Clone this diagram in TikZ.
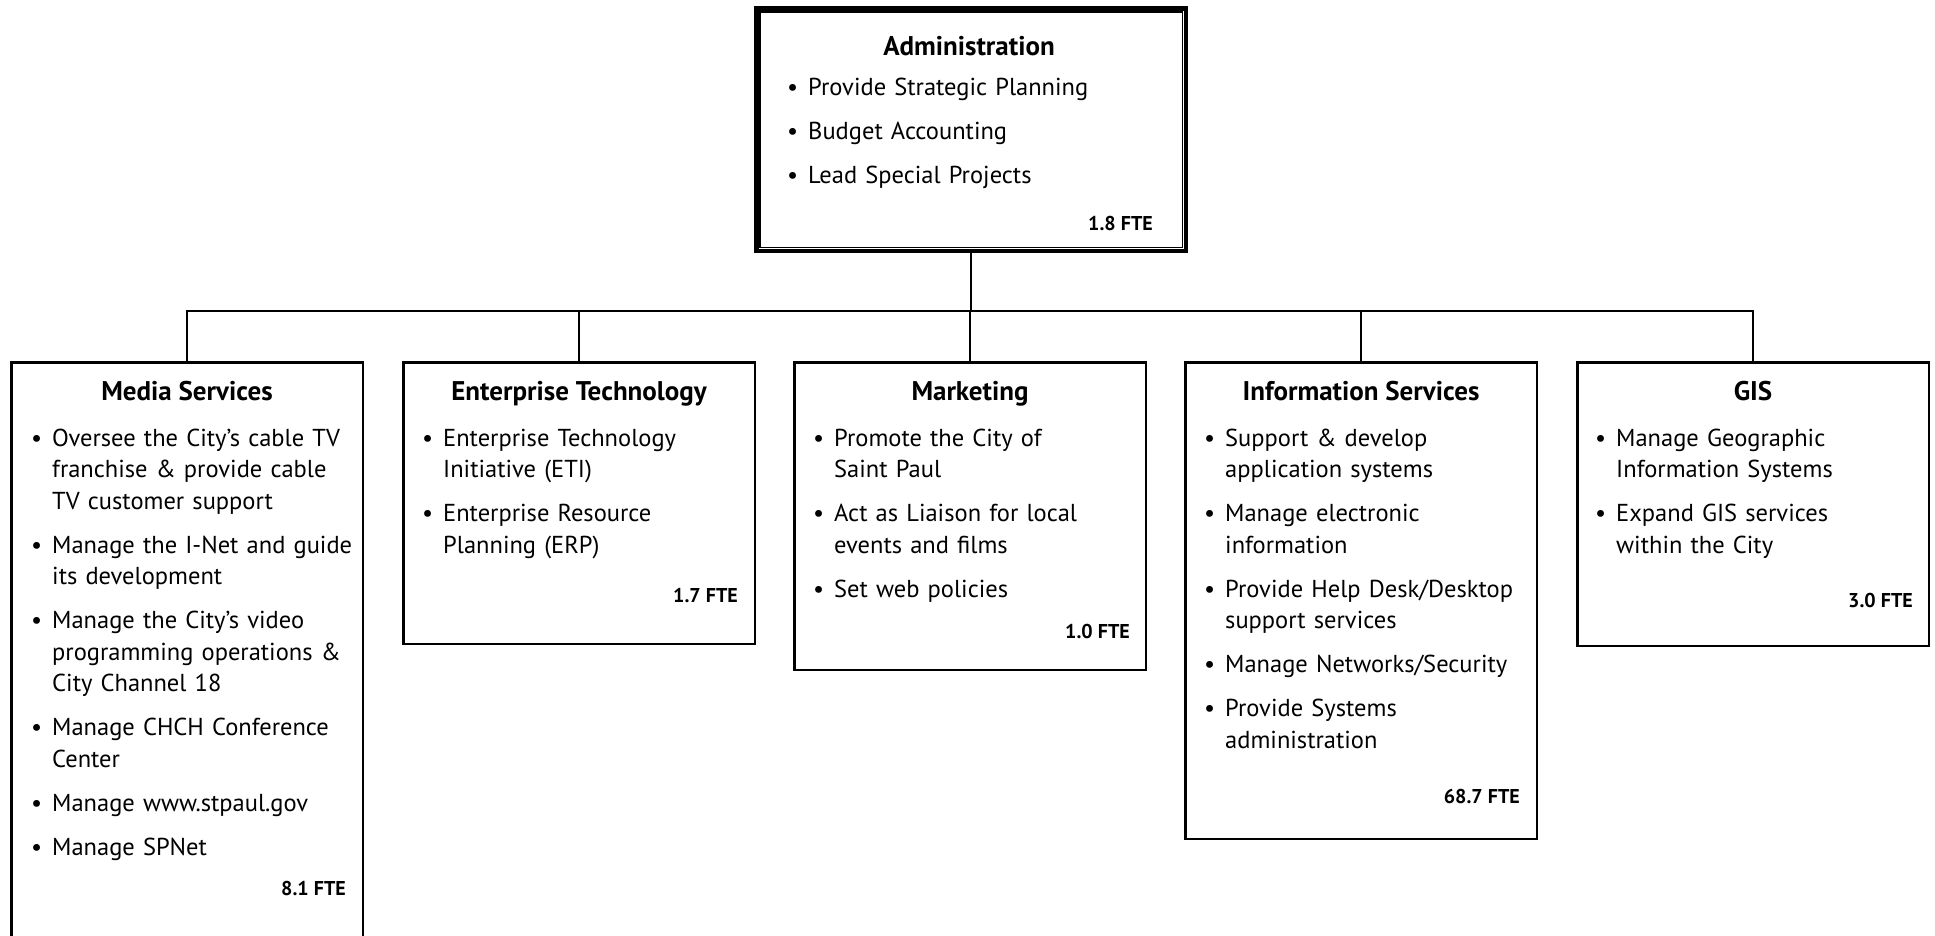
\documentclass[tikz,border=0pt]{standalone}
\usepackage{fontspec}
\setmainfont{PT Sans}
\newcommand\bul[1]{\hangindent=21pt\hangafter=1\noindent\makebox[21pt][l]{\textbullet}#1\par}
\newcommand\gap{\vspace{12.5pt}}
\begin{document}
\begin{tikzpicture}[x=1pt,y=1pt,
  cbox/.style={draw, line width=2.5pt, rectangle, inner sep=0pt, minimum width=351.5pt, anchor=north},
  conn/.style={line width=2pt},
  ttl/.style={anchor=base, inner sep=0pt, font=\fontsize{27}{30}\selectfont\bfseries},
  body/.style={anchor=base west, inner sep=0pt, text width=330pt, align=left, font=\fontsize{24.5}{31.5}\selectfont},
  fte/.style={anchor=base east, inner sep=0pt, font=\fontsize{20}{22}\selectfont\bfseries}]
\useasboundingbox (0,0) rectangle (1935,-935);
\clip (0,0) rectangle (1935,-935);
% Administration
\node[draw, line width=4.5pt, rectangle, inner sep=0pt, minimum width=429.5pt, minimum height=242.5pt] (adm) at (971,-129.5) {};
\draw[line width=1.5pt] ([shift={(5.75,-5.75)}]adm.north west) rectangle ([shift={(-5.75,5.75)}]adm.south east);
\node[ttl] (admt) at (969,-55) {Administration};
\node[body] (admb) at (787,-95) {\bul{Provide Strategic Planning}\gap\bul{Budget Accounting}\gap\bul{Lead Special Projects}};
\node[fte] (admf) at (1153,-230) {1.8 FTE};
% child boxes
\node[cbox, minimum height=700pt] (ms) at (187,-361.25) {};
\node[cbox, minimum height=281.5pt] (et) at (579,-361.25) {};
\node[cbox, minimum height=307.5pt] (mk) at (970,-361.25) {};
\node[cbox, minimum height=476.5pt] (is) at (1361,-361.25) {};
\node[cbox, minimum height=283.5pt] (gis) at (1753,-361.25) {};
% connectors
\coordinate (busy) at (0,-311);
\draw[conn] (adm.south) -- (adm.south |- busy);
\draw[conn] (ms.north) -- (ms.north |- busy) -- (gis.north |- busy) -- (gis.north);
\draw[conn] (et.north) -- (et.north |- busy);
\draw[conn] (mk.north) -- (mk.north |- busy);
\draw[conn] (is.north) -- (is.north |- busy);
% Media Services
\node[ttl] (mst) at (187,-400) {Media Services};
\node[body] (msb) at (31,-446) {\bul{Oversee the City’s cable TV\newline franchise \& provide cable\newline TV customer support}\gap\bul{Manage the I-Net and guide\newline its development}\gap\bul{Manage the City’s video\newline programming operations \&\newline City Channel 18}\gap\bul{Manage CHCH Conference\newline Center}\gap\bul{Manage www.stpaul.gov}\gap\bul{Manage SPNet}};
\node[fte] (msf) at (346,-895) {8.1 FTE};
% Enterprise Technology
\node[ttl] (ett) at (579,-400) {Enterprise Technology};
\node[body] (etb) at (422,-446) {\bul{Enterprise Technology\newline Initiative (ETI)}\gap\bul{Enterprise Resource\newline Planning (ERP)}};
\node[fte] (etf) at (738,-602) {1.7 FTE};
% Marketing
\node[ttl] (mkt) at (970,-400) {Marketing};
\node[body] (mkb) at (813,-446) {\bul{Promote the City of\newline Saint Paul}\gap\bul{Act as Liaison for local\newline events and films}\gap\bul{Set web policies}};
\node[fte] (mkf) at (1130,-638) {1.0 FTE};
% Information Services
\node[ttl] (ist) at (1361,-400) {Information Services};
\node[body] (isb) at (1204,-446) {\bul{Support \& develop\newline application systems}\gap\bul{Manage electronic\newline information}\gap\bul{Provide Help Desk/Desktop\newline support services}\gap\bul{Manage Networks/Security}\gap\bul{Provide Systems\newline administration}};
\node[fte] (isf) at (1520,-803) {68.7 FTE};
% GIS
\node[ttl] (gist) at (1753,-400) {GIS};
\node[body] (gisb) at (1595,-446) {\bul{Manage Geographic\newline Information Systems}\gap\bul{Expand GIS services\newline within the City}};
\node[fte] (gisf) at (1913,-607) {3.0 FTE};
\end{tikzpicture}
\end{document}
